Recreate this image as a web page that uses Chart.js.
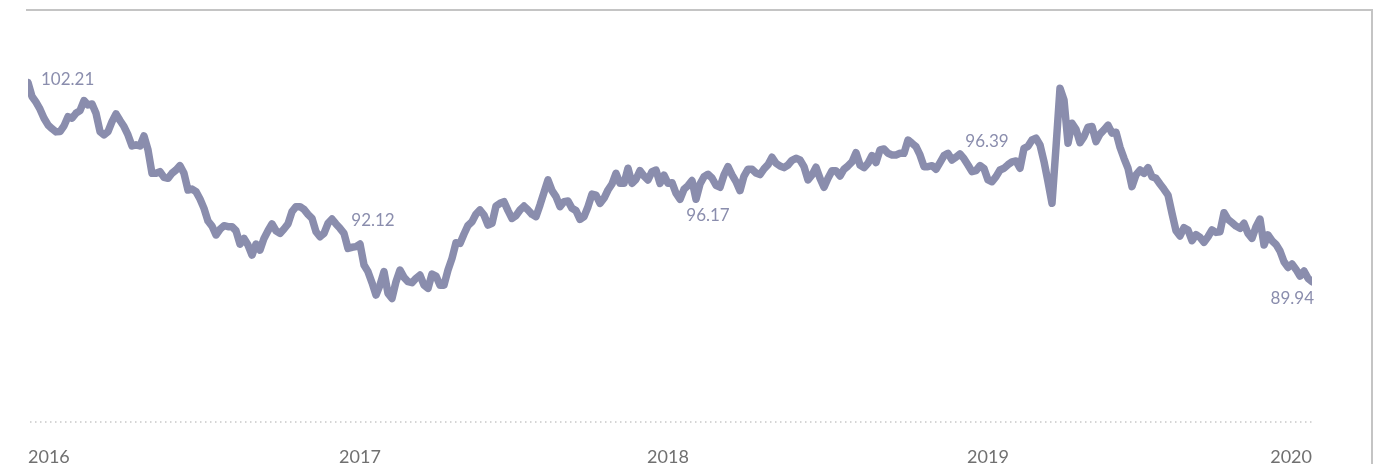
<!DOCTYPE html>
<html>
<head>
<meta charset="utf-8">
<script src="https://cdn.jsdelivr.net/npm/chart.js@4.4.1/dist/chart.umd.min.js"></script>
<style>
  html, body { margin: 0; padding: 0; background: #fff; }
  #wrap { position: relative; width: 1382px; height: 470px; }
  #frame {
    position: absolute; left: 26px; top: 9px; width: 1345px; height: 453px;
    border-top: 2px solid #c4c4c4; border-right: 2px solid #c4c4c4;
    pointer-events: none;
  }
  canvas { position: absolute; left: 0; top: 0; }
</style>
</head>
<body>
<div id="wrap">
  <canvas id="chart" width="1382" height="470"></canvas>
  <div id="frame"></div>
</div>
<script>
// index values (one point every ~4px of the line)
const values2016 = [
    102.21, 101.35, 101.00, 100.57, 100.01, 99.60, 99.37, 99.17, 99.19, 99.54,
    100.11, 100.01, 100.32, 100.48, 101.10, 100.83, 100.89, 100.32, 99.19, 98.98,
    99.19, 99.80, 100.28, 99.87, 99.50, 98.98, 98.30, 98.37, 98.30, 98.92,
    98.06, 96.62, 96.62, 96.72, 96.37, 96.31, 96.62, 96.82, 97.09, 96.62,
    95.59, 95.65, 95.49, 95.04, 94.46, 93.68, 93.37, 92.82, 93.17, 93.39,
    93.33, 93.33, 93.08, 92.26, 92.61, 92.20, 91.58, 92.26, 91.89, 92.61,
    93.08, 93.50, 93.08, 92.92, 93.19, 93.50, 94.26, 94.56, 94.56, 94.40,
    94.09, 93.84, 93.02, 92.71, 92.92, 93.54, 93.80, 93.50, 93.23, 92.92,
    91.99, 92.06, 92.10
];
const values2017 = [
    92.26, 90.97, 90.56, 89.88, 89.12, 89.73, 90.56, 89.22, 88.91, 89.94,
    90.66, 90.21, 89.94, 89.88, 90.15, 90.35, 89.73, 89.53, 90.41, 90.29,
    89.73, 89.73, 90.66, 91.38, 92.34, 92.30, 92.88, 93.41, 93.64, 94.11,
    94.36, 94.05, 93.43, 93.54, 94.60, 94.77, 94.87, 94.32, 93.84, 94.01,
    94.36, 94.60, 94.36, 94.09, 93.95, 94.67, 95.45, 96.21, 95.55, 95.18,
    94.56, 94.87, 94.91, 94.46, 94.32, 93.78, 93.95, 94.56, 95.34, 95.28,
    94.77, 95.08, 95.59, 95.96, 96.62, 96.00, 96.00, 96.93, 96.00, 96.25,
    96.78, 96.45, 96.21, 96.72, 96.82, 96.00, 96.50
];
const values2018 = [
    96.00, 96.04, 95.39, 95.02, 95.63, 95.86, 96.17, 95.02, 95.96, 96.41,
    96.56, 96.33, 95.88, 95.76, 96.52, 97.03, 96.52, 96.11, 95.55, 96.45,
    96.87, 96.87, 96.64, 96.54, 96.89, 97.15, 97.61, 97.24, 97.07, 96.97,
    97.13, 97.42, 97.54, 97.44, 97.03, 96.21, 96.52, 96.99, 96.31, 95.76,
    96.31, 96.78, 96.78, 96.45, 96.87, 97.07, 97.32, 97.89, 97.13, 96.97,
    97.24, 97.71, 97.28, 98.06, 98.12, 97.85, 97.75, 97.75, 97.85, 97.85,
    98.67, 98.47, 98.26, 97.75, 97.03, 97.03, 97.09, 96.87, 97.28, 97.71,
    97.85, 97.44, 97.61, 97.81, 97.52, 97.13, 96.72, 96.78, 97.09, 96.91
];
const values2019 = [
    96.21, 96.10, 96.41, 96.82, 96.93, 97.15, 97.32, 97.38, 96.93, 98.16,
    98.28, 98.67, 98.78, 98.37, 97.34, 96.10, 94.77, 98.22, 101.86, 101.14,
    98.47, 99.70, 99.33, 98.51, 98.88, 99.46, 99.50, 98.57, 99.04, 99.29,
    99.58, 99.09, 99.15, 98.22, 97.54, 96.93, 95.80, 96.52, 96.82, 96.62,
    96.97, 96.41, 96.31, 95.96, 95.63, 95.28, 94.15, 93.08, 92.76, 93.27,
    93.13, 92.47, 92.84, 92.67, 92.37, 92.71, 93.13, 92.98, 93.02, 94.19,
    93.78, 93.58, 93.37, 93.23, 93.54, 92.92, 92.61, 93.33, 93.80, 92.20,
    92.82, 92.47, 92.24, 91.83, 91.17, 90.82, 91.03, 90.70, 90.29, 90.60,
    90.15, 89.94
];

// x-axis labels and the point each one sits on
const yearLabels = ['2016', '2017', '2018', '2019', '2020'];
const yearIndex = [0, 83, 160, 240, 321];

// value notes printed next to the line
const noteText = ['102.21', '92.12', '96.17', '96.39', '89.94'];
const noteIndex = [0, 83, 160, 240, 321];

const lineColor = '#8a8dad';

const allValues = values2016.concat(values2017, values2018, values2019);
const points = allValues.map((v, i) => ({ x: i, y: v }));

// where each note goes relative to its point
const notePlacement = [
    { dx: 13, dy: -3, align: 'left' },
    { dx: 13, dy: -24, align: 'center' },
    { dx: 40, dy: 32, align: 'center' },
    { dx: -1, dy: -38, align: 'center' },
    { dx: 2, dy: 17, align: 'right' }
];

// dotted base line along the bottom of the plot area
const dottedBase = {
    id: 'dottedBase',
    beforeDatasetsDraw(chart) {
        const { ctx, chartArea } = chart;
        ctx.save();
        ctx.strokeStyle = '#c8c8c8';
        ctx.lineWidth = 1.5;
        ctx.setLineDash([1.5, 3.5]);
        ctx.beginPath();
        ctx.moveTo(chartArea.left + 2, chartArea.bottom);
        ctx.lineTo(chartArea.right + 2, chartArea.bottom);
        ctx.stroke();
        ctx.restore();
    }
};

const valueNotes = {
    id: 'valueNotes',
    afterDatasetsDraw(chart) {
        const ctx = chart.ctx;
        const meta = chart.getDatasetMeta(0);
        ctx.save();
        ctx.font = '17px Lato, "Open Sans", sans-serif';
        ctx.fillStyle = lineColor;
        ctx.textBaseline = 'middle';
        noteIndex.forEach((idx, n) => {
            const pt = meta.data[idx];
            const p = notePlacement[n];
            ctx.textAlign = p.align;
            ctx.fillText(noteText[n], pt.x + p.dx, pt.y + p.dy);
        });
        ctx.restore();
    }
};

new Chart(document.getElementById('chart').getContext('2d'), {
    type: 'line',
    data: {
        datasets: [{
            data: points,
            borderColor: lineColor,
            borderWidth: 7.5,
            borderJoinStyle: 'round',
            borderCapStyle: 'round',
            pointRadius: 0,
            tension: 0,
            fill: false
        }]
    },
    options: {
        responsive: false,
        animation: false,
        events: [],
        layout: { padding: { left: 28, right: 70, top: 21, bottom: 5 } },
        plugins: {
            legend: { display: false },
            tooltip: { enabled: false }
        },
        scales: {
            x: {
                type: 'linear',
                min: 0,
                max: allValues.length - 1,
                grid: { display: false, drawTicks: false },
                border: { display: false },
                afterBuildTicks: (scale) => {
                    scale.ticks = yearIndex.map(v => ({ value: v }));
                },
                afterFit: (scale) => {
                    scale.height = 43;
                },
                ticks: {
                    autoSkip: false,
                    maxRotation: 0,
                    align: 'inner',
                    padding: 24,
                    color: '#707070',
                    font: { family: 'Lato, "Open Sans", sans-serif', size: 18 },
                    callback: (value) => yearLabels[yearIndex.indexOf(value)]
                }
            },
            y: {
                display: false,
                min: 81.3,
                max: 106
            }
        }
    },
    plugins: [dottedBase, valueNotes]
});
</script>
</body>
</html>
